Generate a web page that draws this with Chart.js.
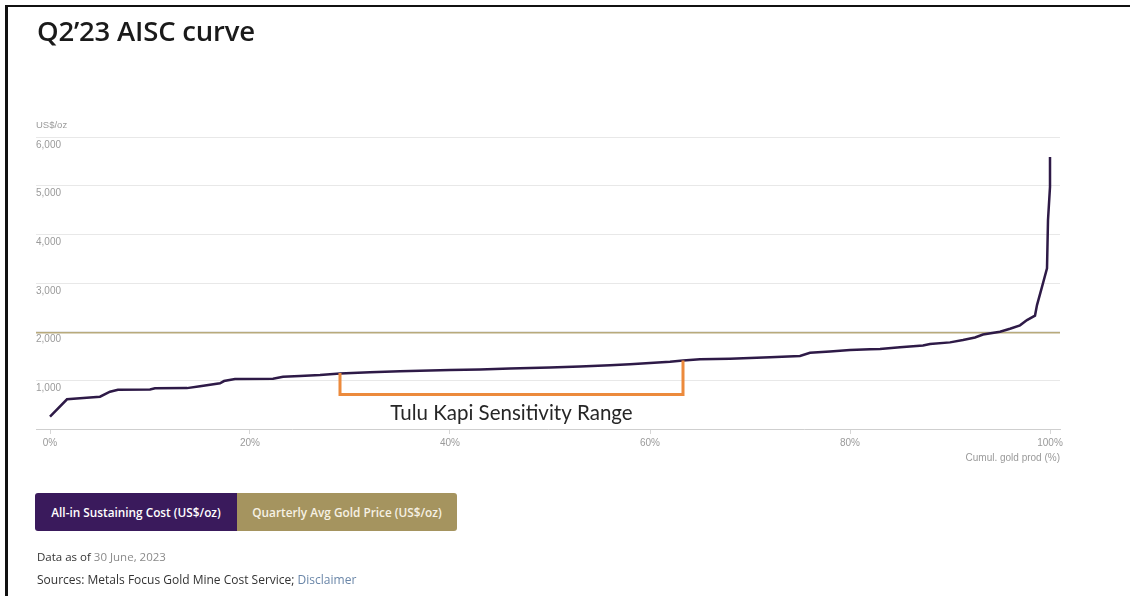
<!DOCTYPE html>
<html>
<head>
<meta charset="utf-8">
<script src="https://cdn.jsdelivr.net/npm/chart.js@4.4.1/dist/chart.umd.min.js"></script>
<style>
  html, body { margin: 0; padding: 0; background: #fff; }
  body { width: 1130px; height: 596px; position: relative; overflow: hidden; font-family: "Open Sans", sans-serif; }
  #frameTop { position: absolute; left: 5px; top: 5px; width: 1125px; height: 2px; background: #111; }
  #frameLeft { position: absolute; left: 5px; top: 5px; width: 3px; height: 591px; background: #111; }
  #chartBox { position: absolute; left: 0; top: 0; width: 1130px; height: 596px; }
  h1 { position: absolute; left: 37px; top: 13px; margin: 0; font-size: 27.5px; font-weight: 600; color: #1a1a1a; line-height: 36px; letter-spacing: -0.2px; }
  .legend { position: absolute; left: 35px; top: 493px; display: flex; height: 38px; }
  .legend div { display: flex; align-items: center; justify-content: center; padding: 0; font-size: 11.8px; font-weight: 600; white-space: nowrap; box-sizing: border-box; }
  .legend .aisc { background: #3a1a5c; color: #fff; border-radius: 3px 0 0 3px; width: 202px; }
  .legend .gold { background: #a5945f; color: #f6f1e4; border-radius: 0 3px 3px 0; width: 220px; }
  .foot { position: absolute; left: 37px; color: #333; }
  .foot .muted { color: #8a8a8a; }
  .foot .link { color: #6a86a8; }
</style>
</head>
<body>
<div id="chartBox"><canvas id="cost"></canvas></div>
<div id="frameTop"></div>
<div id="frameLeft"></div>
<h1>Q2’23 AISC curve</h1>
<div class="legend"><div class="aisc">All-in Sustaining Cost (US$/oz)</div><div class="gold">Quarterly Avg Gold Price (US$/oz)</div></div>
<div class="foot" style="top:549px; font-size:11.5px">Data as of <span class="muted">30 June, 2023</span></div>
<div class="foot" style="top:571px; font-size:12px">Sources: Metals Focus Gold Mine Cost Service; <span class="link">Disclaimer</span></div>
<script>
// Cumulative share of global gold output (%) and the matching all-in sustaining cost (US$/oz)
const cumulProd = [0, 1.7, 3, 5, 6, 6.8, 10, 10.5, 13.7, 15, 17, 17.4, 18.5, 22.3, 23.3, 25, 27, 29,
  32, 35, 38, 40, 43, 46, 50, 53, 56, 58, 60, 62, 63.3, 65, 68, 70, 72, 75, 76, 78, 80, 82, 83,
  85, 87.3, 88, 90, 91.3, 92.5, 93.3, 95, 96, 97, 97.7, 98.5, 98.7, 99.2, 99.7, 99.8, 100, 100];
const aiscCost = [253, 610, 630, 663, 766, 807, 810, 835, 840, 880, 938, 985, 1027, 1035, 1074, 1090, 1110, 1140,
  1165, 1185, 1200, 1211, 1225, 1245, 1263, 1285, 1310, 1330, 1355, 1380, 1407, 1431, 1445, 1458, 1475, 1499, 1565, 1590, 1622, 1640, 1645,
  1680, 1715, 1745, 1780, 1828, 1880, 1940, 1998, 2060, 2130, 2238, 2330, 2546, 2922, 3300, 4292, 4975, 5590];

// Quarterly average gold price (US$/oz)
const goldPrice = 1976;

// Sensitivity range bracket: cumulative % and US$/oz corners
const rangeX = [29, 29, 63.3, 63.3];
const rangeY = [1150, 708, 708, 1407];
const rangeLabel = 'Tulu Kapi Sensitivity Range';

// Axis extent and tick labels
const xMin = -1.4, xMax = 101;
const xTicks = [0, 20, 40, 60, 80, 100];
const yTicks = [0, 1000, 2000, 3000, 4000, 5000, 6000];

const toPoints = (xs, ys) => xs.map((x, i) => ({ x, y: ys[i] }));

const axisText = {
  id: 'axisText',
  afterDraw(chart) {
    const { ctx, chartArea, scales } = chart;
    ctx.save();
    ctx.fillStyle = '#9a9a9a';
    ctx.font = '9.5px "Liberation Sans", Arial, sans-serif';
    ctx.textBaseline = 'middle';
    ctx.textAlign = 'left';
    ctx.fillText('US$/oz', chartArea.left, chartArea.top - 12);
    ctx.textAlign = 'right';
    ctx.font = '10px "Liberation Sans", Arial, sans-serif';
    ctx.fillText('Cumul. gold prod (%)', chartArea.right, chartArea.bottom + 29);
    // bracket caption
    const cx = scales.x.getPixelForValue((rangeX[0] + rangeX[2]) / 2);
    const cy = scales.y.getPixelForValue(rangeY[1]) + 19;
    ctx.fillStyle = '#262626';
    ctx.textAlign = 'center';
    ctx.font = '20.5px Lato, "Open Sans", sans-serif';
    ctx.fillText(rangeLabel, cx, cy);
    ctx.restore();
  }
};

new Chart(document.getElementById('cost'), {
  type: 'line',
  data: {
    datasets: [
      {
        label: 'All-in Sustaining Cost (US$/oz)',
        data: toPoints(cumulProd, aiscCost),
        borderColor: '#2e1a47',
        borderWidth: 2.5,
        pointRadius: 0,
        tension: 0,
        order: 1
      },
      {
        label: 'Quarterly Avg Gold Price (US$/oz)',
        data: toPoints([xMin, xMax], [goldPrice, goldPrice]),
        borderColor: '#b8aa7c',
        borderWidth: 1.5,
        pointRadius: 0,
        order: 2
      },
      {
        label: rangeLabel,
        data: toPoints(rangeX, rangeY),
        borderColor: '#ec8a3c',
        borderWidth: 3,
        pointRadius: 0,
        tension: 0,
        borderJoinStyle: 'miter',
        order: 0
      }
    ]
  },
  options: {
    responsive: true,
    maintainAspectRatio: false,
    animation: false,
    layout: { padding: { left: 36, right: 70, top: 137, bottom: 137 } },
    plugins: { legend: { display: false }, tooltip: { enabled: false } },
    scales: {
      x: {
        type: 'linear',
        min: xMin,
        max: xMax,
        afterBuildTicks: s => { s.ticks = xTicks.map(v => ({ value: v })); },
        afterFit: s => { s.height = 30; },
        grid: { drawOnChartArea: false, drawTicks: true, tickLength: 5, color: '#d6d6d6' },
        border: { display: true, color: '#cfcfcf', width: 1 },
        ticks: {
          padding: 3,
          color: '#9a9a9a',
          font: { family: '"Liberation Sans", Arial, sans-serif', size: 10 },
          callback: v => v + '%'
        }
      },
      y: {
        min: 0,
        max: 6000,
        afterBuildTicks: s => { s.ticks = yTicks.map(v => ({ value: v })); },
        afterFit: s => { s.width = 0; },
        grid: {
          drawTicks: false,
          color: c => (c.tick && c.tick.value === 0 ? 'rgba(0,0,0,0)' : '#e8e8e8'),
          lineWidth: 1
        },
        border: { display: false },
        ticks: {
          mirror: true,
          padding: 0,
          labelOffset: 8,
          color: '#9a9a9a',
          font: { family: '"Liberation Sans", Arial, sans-serif', size: 10 },
          callback: v => (v === 0 ? '' : v.toLocaleString('en-US'))
        }
      }
    }
  },
  plugins: [axisText]
});
</script>
</body>
</html>
